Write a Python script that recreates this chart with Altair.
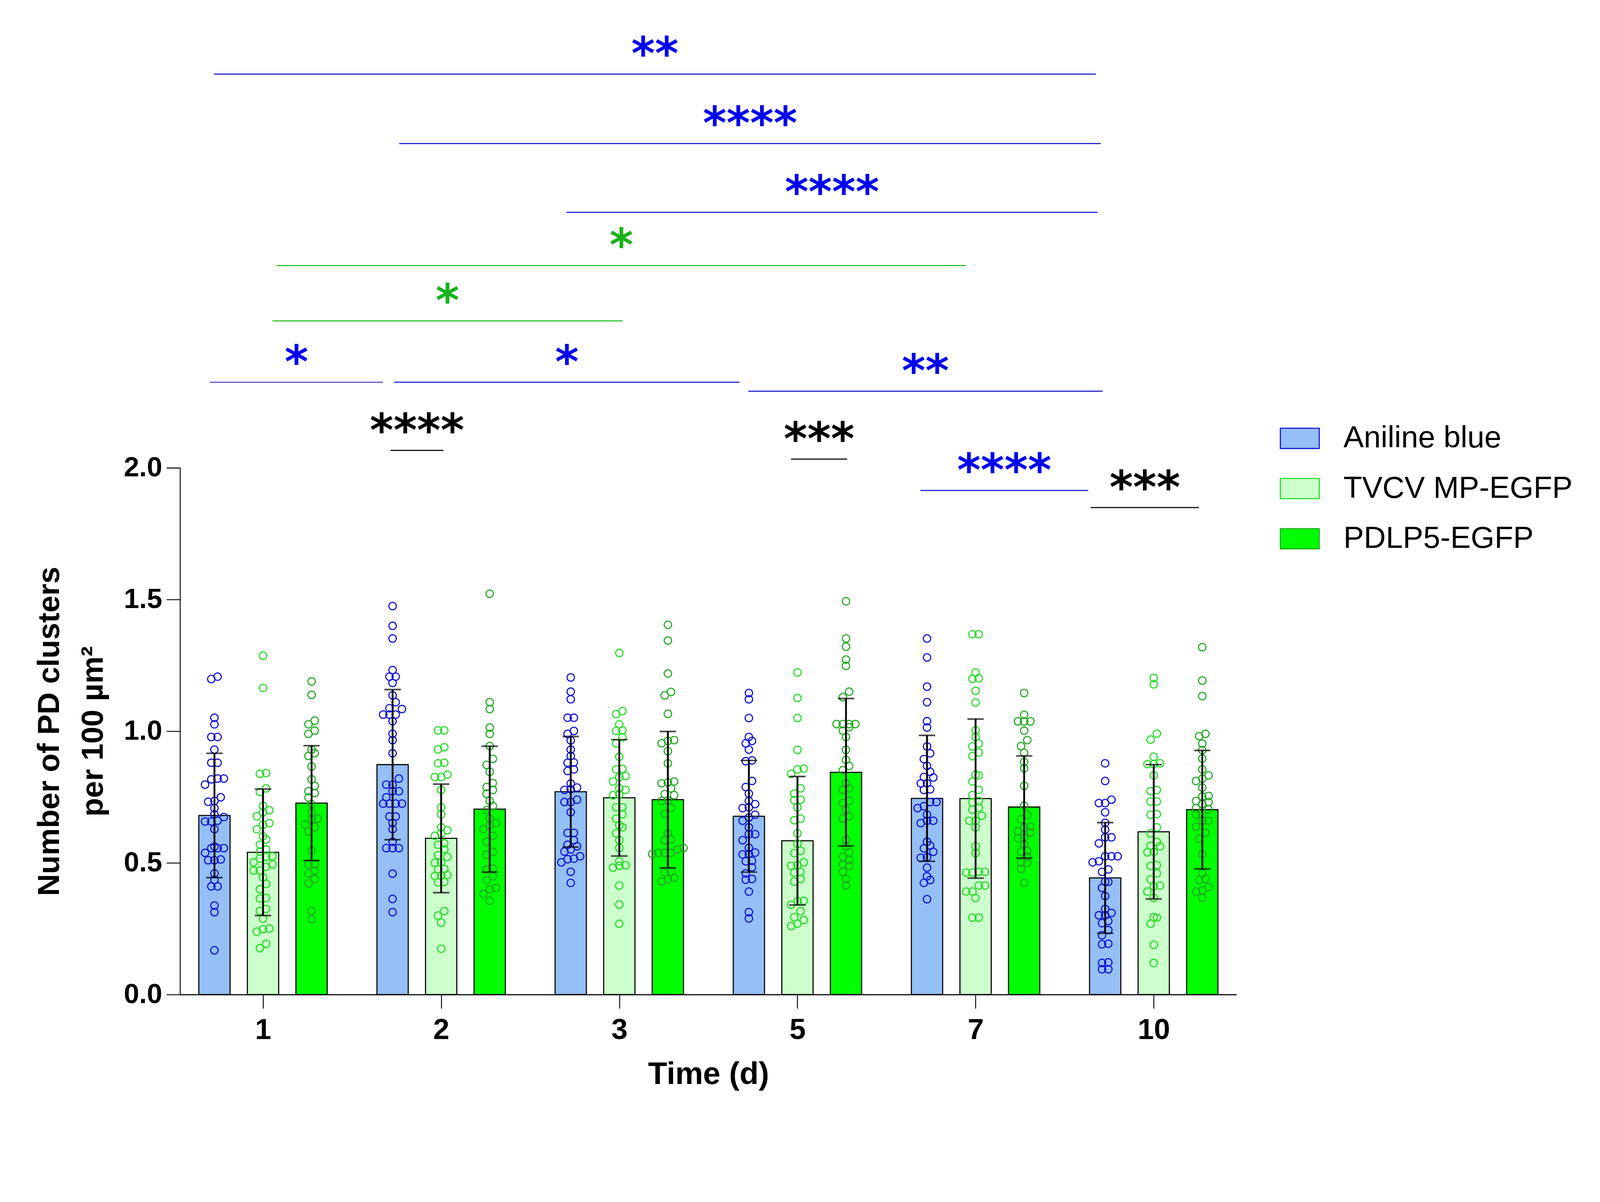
import json
import altair as alt
import pandas as pd

days = ["1", "2", "3", "5", "7", "10"]
series = ["Aniline blue", "TVCV MP-EGFP", "PDLP5-EGFP"]

# bar heights (mean) and SD
mean_ab = [0.680, 0.873, 0.770, 0.677, 0.745, 0.443]
mean_tv = [0.540, 0.593, 0.747, 0.584, 0.744, 0.618]
mean_pd = [0.727, 0.704, 0.740, 0.844, 0.712, 0.702]
sd_ab = [0.236, 0.285, 0.210, 0.212, 0.239, 0.210]
sd_tv = [0.240, 0.206, 0.221, 0.244, 0.302, 0.255]
sd_pd = [0.218, 0.239, 0.259, 0.280, 0.194, 0.225]

# individual measurements
ab_d1 = [1.207, 1.198, 1.051, 1.026, 0.978, 0.978, 0.930, 0.880, 0.880, 0.820, 0.820, 0.817, 0.797, 0.749, 0.735, 0.732, 0.708, 0.684, 0.674, 0.660, 0.657, 0.657, 0.628, 0.562, 0.556, 0.556, 0.556, 0.538, 0.513, 0.510, 0.510, 0.460, 0.435, 0.411, 0.411, 0.338, 0.313, 0.168]
tv_d1 = [1.287, 1.164, 0.841, 0.838, 0.783, 0.769, 0.717, 0.700, 0.692, 0.677, 0.651, 0.645, 0.628, 0.601, 0.589, 0.569, 0.551, 0.543, 0.525, 0.523, 0.516, 0.502, 0.494, 0.485, 0.471, 0.471, 0.445, 0.420, 0.400, 0.367, 0.365, 0.325, 0.317, 0.288, 0.251, 0.248, 0.239, 0.193, 0.176]
pd_d1 = [1.189, 1.138, 1.040, 1.026, 1.002, 0.990, 0.930, 0.916, 0.906, 0.866, 0.817, 0.792, 0.772, 0.765, 0.748, 0.723, 0.692, 0.668, 0.665, 0.645, 0.636, 0.619, 0.546, 0.494, 0.494, 0.471, 0.460, 0.439, 0.422, 0.317, 0.286]
ab_d2 = [1.475, 1.400, 1.352, 1.232, 1.207, 1.207, 1.183, 1.136, 1.110, 1.087, 1.084, 1.063, 1.063, 1.063, 1.038, 0.990, 0.966, 0.916, 0.820, 0.797, 0.797, 0.772, 0.772, 0.749, 0.725, 0.725, 0.725, 0.725, 0.676, 0.676, 0.652, 0.628, 0.580, 0.556, 0.556, 0.556, 0.459, 0.363, 0.313]
tv_d2 = [1.003, 1.003, 0.939, 0.931, 0.880, 0.878, 0.835, 0.826, 0.826, 0.777, 0.711, 0.684, 0.635, 0.624, 0.612, 0.603, 0.574, 0.569, 0.551, 0.529, 0.523, 0.502, 0.500, 0.477, 0.475, 0.454, 0.452, 0.450, 0.428, 0.426, 0.317, 0.300, 0.273, 0.174]
pd_d2 = [1.522, 1.110, 1.084, 1.014, 0.990, 0.944, 0.895, 0.872, 0.846, 0.803, 0.788, 0.777, 0.763, 0.735, 0.716, 0.700, 0.668, 0.651, 0.643, 0.628, 0.603, 0.580, 0.542, 0.531, 0.479, 0.474, 0.449, 0.434, 0.405, 0.400, 0.382, 0.356]
ab_d3 = [1.204, 1.150, 1.121, 1.051, 1.051, 1.001, 0.990, 0.965, 0.930, 0.906, 0.881, 0.880, 0.855, 0.849, 0.801, 0.786, 0.780, 0.777, 0.740, 0.731, 0.731, 0.692, 0.614, 0.614, 0.586, 0.569, 0.563, 0.551, 0.543, 0.525, 0.516, 0.514, 0.502, 0.466, 0.424]
tv_d3 = [1.297, 1.076, 1.065, 1.026, 1.003, 1.001, 0.977, 0.954, 0.903, 0.857, 0.855, 0.830, 0.826, 0.809, 0.783, 0.777, 0.760, 0.757, 0.711, 0.711, 0.685, 0.668, 0.643, 0.635, 0.612, 0.586, 0.557, 0.506, 0.491, 0.489, 0.482, 0.414, 0.342, 0.269]
pd_d3 = [1.404, 1.344, 1.219, 1.149, 1.136, 1.066, 0.966, 0.963, 0.954, 0.924, 0.878, 0.809, 0.805, 0.802, 0.783, 0.761, 0.757, 0.737, 0.735, 0.709, 0.686, 0.612, 0.589, 0.586, 0.557, 0.551, 0.538, 0.538, 0.538, 0.534, 0.466, 0.463, 0.443, 0.438, 0.429]
ab_d5 = [1.145, 1.121, 1.050, 0.978, 0.963, 0.954, 0.930, 0.889, 0.886, 0.811, 0.788, 0.763, 0.735, 0.723, 0.711, 0.708, 0.683, 0.672, 0.660, 0.635, 0.609, 0.609, 0.586, 0.557, 0.539, 0.534, 0.532, 0.508, 0.506, 0.483, 0.460, 0.439, 0.436, 0.391, 0.313, 0.289]
tv_d5 = [1.223, 1.126, 1.050, 0.929, 0.858, 0.855, 0.838, 0.783, 0.763, 0.740, 0.738, 0.711, 0.668, 0.662, 0.612, 0.573, 0.546, 0.537, 0.502, 0.491, 0.489, 0.466, 0.463, 0.439, 0.429, 0.356, 0.354, 0.341, 0.317, 0.294, 0.283, 0.269, 0.260]
pd_d5 = [1.493, 1.352, 1.321, 1.272, 1.248, 1.150, 1.129, 1.027, 1.027, 1.027, 1.027, 1.015, 1.002, 0.978, 0.929, 0.891, 0.868, 0.852, 0.802, 0.783, 0.777, 0.735, 0.727, 0.701, 0.677, 0.669, 0.588, 0.563, 0.540, 0.523, 0.511, 0.494, 0.489, 0.466, 0.439, 0.415]
ab_d7 = [1.352, 1.280, 1.169, 1.110, 1.038, 1.014, 0.942, 0.916, 0.894, 0.868, 0.846, 0.826, 0.824, 0.802, 0.802, 0.779, 0.777, 0.731, 0.731, 0.715, 0.708, 0.683, 0.660, 0.660, 0.651, 0.580, 0.566, 0.555, 0.542, 0.521, 0.519, 0.482, 0.449, 0.435, 0.424, 0.362]
tv_d7 = [1.368, 1.368, 1.223, 1.201, 1.199, 1.153, 1.109, 1.003, 0.978, 0.953, 0.942, 0.919, 0.905, 0.834, 0.832, 0.809, 0.777, 0.757, 0.735, 0.729, 0.709, 0.702, 0.679, 0.660, 0.660, 0.635, 0.563, 0.537, 0.466, 0.466, 0.463, 0.463, 0.414, 0.414, 0.391, 0.391, 0.367, 0.292, 0.292]
pd_d7 = [1.145, 1.062, 1.037, 1.037, 1.037, 1.002, 0.966, 0.943, 0.918, 0.883, 0.859, 0.792, 0.717, 0.683, 0.666, 0.637, 0.635, 0.620, 0.616, 0.597, 0.594, 0.569, 0.546, 0.543, 0.523, 0.502, 0.500, 0.477, 0.424]
ab_d10 = [0.878, 0.811, 0.740, 0.727, 0.727, 0.692, 0.652, 0.626, 0.597, 0.597, 0.574, 0.525, 0.525, 0.525, 0.506, 0.502, 0.475, 0.466, 0.429, 0.428, 0.405, 0.374, 0.325, 0.310, 0.301, 0.301, 0.279, 0.271, 0.245, 0.225, 0.193, 0.191, 0.122, 0.120, 0.096, 0.096]
tv_d10 = [1.202, 1.178, 0.991, 0.968, 0.903, 0.878, 0.875, 0.875, 0.832, 0.777, 0.772, 0.733, 0.733, 0.685, 0.683, 0.635, 0.612, 0.580, 0.565, 0.563, 0.542, 0.540, 0.491, 0.489, 0.460, 0.437, 0.414, 0.411, 0.391, 0.367, 0.294, 0.292, 0.269, 0.189, 0.120]
pd_d10 = [1.319, 1.192, 1.133, 0.990, 0.981, 0.953, 0.928, 0.896, 0.855, 0.832, 0.820, 0.811, 0.786, 0.754, 0.752, 0.735, 0.731, 0.723, 0.708, 0.703, 0.685, 0.683, 0.660, 0.660, 0.637, 0.614, 0.592, 0.532, 0.460, 0.439, 0.435, 0.408, 0.396, 0.391, 0.367]

# significance annotations: span (in day-group units), level, stars, comparison set
br_x1 = [-0.275, 0.765, 1.703, 0.077, 0.053, -0.297, 0.736, 2.724, 0.716, 2.964, 3.690, 4.646]
br_x2 = [4.675, 4.703, 4.685, 3.946, 2.018, 0.673, 2.675, 4.713, 1.013, 3.279, 4.632, 5.254]
br_y = [3.495, 3.231, 2.970, 2.768, 2.558, 2.325, 2.325, 2.291, 2.066, 2.033, 1.914, 1.849]
br_label = ["**", "****", "****", "*", "*", "*", "*", "**", "****", "***", "****", "***"]
br_set = ["ab", "ab", "ab", "tv", "tv", "ab2", "ab", "ab", "pair", "pair", "ab", "pair"]

points = {
    "Aniline blue": [ab_d1, ab_d2, ab_d3, ab_d5, ab_d7, ab_d10],
    "TVCV MP-EGFP": [tv_d1, tv_d2, tv_d3, tv_d5, tv_d7, tv_d10],
    "PDLP5-EGFP": [pd_d1, pd_d2, pd_d3, pd_d5, pd_d7, pd_d10],
}
means = {"Aniline blue": mean_ab, "TVCV MP-EGFP": mean_tv, "PDLP5-EGFP": mean_pd}
sds = {"Aniline blue": sd_ab, "TVCV MP-EGFP": sd_tv, "PDLP5-EGFP": sd_pd}

fill_colors = ["#94bff7", "#ccffcc", "#00ff00"]
dot_colors = ["#1010d6", "#22dd22", "#20aa20"]
set_names = ["ab", "ab2", "tv", "pair"]
star_colors = ["#0000ee", "#0000ee", "#19b319", "#000000"]
line_colors = ["#1414cc", "#4a4ac4", "#22bb22", "#000000"]

FONT = "Liberation Sans"
W, H = 2905, 2679
X_DOM = [-0.4546, 5.4546]
Y_DOM = [0, 3.7]
BAR_OFF = 0.2726
STEP_X = 0.0352   # horizontal spacing of dots in x units
STEP_Y = 0.0235   # dots closer than this share a row
PAD_TOP = -63


def swarm(vals):
    order = sorted(range(len(vals)), key=lambda i: vals[i])
    offs = [0.0] * len(vals)
    i = 0
    while i < len(order):
        start = vals[order[i]]
        row = [order[i]]
        j = i + 1
        while j < len(order) and vals[order[j]] - start < STEP_Y:
            row.append(order[j])
            j += 1
        n = len(row)
        for k, idx in enumerate(row):
            offs[idx] = (k - (n - 1) / 2) * STEP_X
        i = j
    return offs


bar_rows, pt_rows = [], []
for si, s in enumerate(series):
    off = (si - 1) * BAR_OFF
    for di, d in enumerate(days):
        m, sd = means[s][di], sds[s][di]
        bar_rows.append({"series": s, "pos": di + off, "mean": m,
                         "lo": m - sd, "hi": m + sd})
        vals = points[s][di]
        for v, o in zip(vals, swarm(vals)):
            pt_rows.append({"grp": s, "pos": di + off + o, "value": v})
bars_df = pd.DataFrame(bar_rows)
pts_df = pd.DataFrame(pt_rows)
br_df = pd.DataFrame({"x1": br_x1, "x2": br_x2, "level": br_y,
                      "stars": br_label, "set": br_set})
br_df["mid"] = (br_df["x1"] + br_df["x2"]) / 2

label_expr = "%s[datum.value]" % json.dumps(days)
x_axis = alt.Axis(values=list(range(len(days))), labelExpr=label_expr,
                  title="Time (d)", labelFont=FONT, labelFontWeight="bold",
                  labelFontSize=80, labelColor="black", labelBaseline="alphabetic",
                  labelPadding=84, tickSize=38, tickWidth=2.5, tickColor="black",
                  domainColor="black", domainWidth=3, titleFont=FONT,
                  titleFontWeight="bold", titleFontSize=86, titleColor="black",
                  titleBaseline="alphabetic", titleY=245, grid=False)
y_axis = alt.Axis(values=[0, 0.5, 1.0, 1.5, 2.0], format=".1f",
                  title=["Number of PD clusters", "per 100 µm²"],
                  labelFont=FONT, labelFontWeight="bold", labelFontSize=76,
                  labelColor="black", labelPadding=12, tickSize=38, tickWidth=2.5,
                  tickColor="black", domain=False, grid=False, titleFont=FONT,
                  titleFontWeight="bold", titleFontSize=84, titleColor="black",
                  titleAngle=270, titleAlign="center", titleBaseline="alphabetic",
                  titleLineHeight=120, titleX=-334, titleY=1955)
x_scale = alt.Scale(domain=X_DOM, nice=False, zero=False)
y_scale = alt.Scale(domain=Y_DOM, nice=False)


def X(field):
    return alt.X(field, type="quantitative", scale=x_scale, axis=x_axis)


def Y(field):
    return alt.Y(field, type="quantitative", scale=y_scale, axis=y_axis)


bars = alt.Chart(bars_df).mark_bar(size=86, stroke="black", strokeWidth=3).encode(
    x=X("pos"),
    y=Y("mean"),
    fill=alt.Fill("series:N", scale=alt.Scale(domain=series, range=fill_colors),
                  legend=alt.Legend(title=None, orient="none", legendX=3024, legendY=1095,
                                    symbolType="M-1,-0.52H1V0.52H-1Z", symbolSize=11449,
                                    symbolStrokeColor="black", symbolStrokeWidth=3,
                                    symbolOpacity=1, labelFont=FONT, labelFontSize=84,
                                    labelColor="black", labelOffset=65, rowPadding=41,
                                    labelLimit=0)),
)

dots = alt.Chart(pts_df).mark_point(shape="circle", size=420, strokeWidth=3,
                                    filled=False, opacity=1).encode(
    x=X("pos"),
    y=Y("value"),
    stroke=alt.Stroke("grp:N", scale=alt.Scale(domain=series, range=dot_colors),
                      legend=None),
)

err = alt.Chart(bars_df).mark_rule(color="black", strokeWidth=5).encode(
    x=X("pos"), y=Y("lo"), y2="hi")
cap_hi = alt.Chart(bars_df).mark_tick(color="black", orient="horizontal", size=45,
                                      thickness=4.5).encode(x=X("pos"), y=Y("hi"))
cap_lo = alt.Chart(bars_df).mark_tick(color="black", orient="horizontal", size=45,
                                      thickness=4.5).encode(x=X("pos"), y=Y("lo"))

y_line = alt.Chart(pd.DataFrame({"a": [0.0], "b": [2.0]})).mark_rule(
    color="black", strokeWidth=2.5).encode(x=alt.value(0), y=Y("a"), y2="b")

br_lines = alt.Chart(br_df).mark_rule(strokeWidth=3).encode(
    x=X("x1"), x2="x2", y=Y("level"),
    color=alt.Color("set:N", scale=alt.Scale(domain=set_names, range=line_colors),
                    legend=None),
)
br_text = alt.Chart(br_df).mark_text(font="DejaVu Sans", fontWeight="bold", fontSize=124,
                                     baseline="alphabetic", align="center", dy=-13).encode(
    x=X("mid"), y=Y("level"), text="stars:N",
    color=alt.Color("set:N", scale=alt.Scale(domain=set_names, range=star_colors),
                    legend=None),
)

chart = alt.layer(bars, dots, err, cap_hi, cap_lo, y_line, br_lines, br_text).resolve_scale(
    color="independent"
).properties(
    width=W, height=H,
    autosize=alt.AutoSizeParams(type="none"),
    padding={"left": 487, "top": PAD_TOP, "right": 991, "bottom": 335},
).configure_view(stroke=None)

chart.save("out.html", embed_options={"renderer": "svg", "actions": False})
